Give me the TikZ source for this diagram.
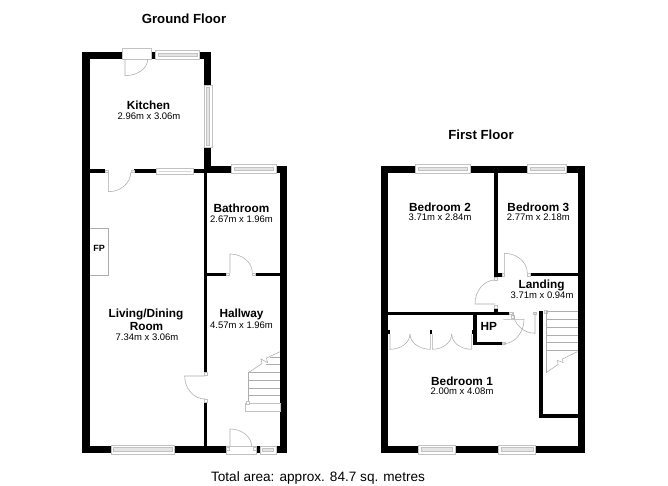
\documentclass[tikz,border=0pt]{standalone}
\usepackage{fontspec}
\setmainfont{Liberation Sans}
\definecolor{ln}{gray}{0.68}
\definecolor{lnw}{gray}{0.76}
\definecolor{glass}{gray}{0.9}
\tikzset{
  x=1pt,y=-1pt,
  wall/.style={fill=black,draw=none},
  thin line/.style={draw=ln,line width=0.55pt},
  framebox/.style={draw=lnw,line width=0.5pt,fill=white},
  glassbox/.style={draw=lnw,line width=0.45pt,fill=glass},
  roomname/.style={font=\bfseries\fontsize{11.8}{12}\selectfont,inner sep=0pt,align=center},
  roomdims/.style={font=\fontsize{9.5}{10}\selectfont,inner sep=0pt},
  heading/.style={font=\bfseries\fontsize{13.2}{14}\selectfont,inner sep=0pt},
}
\newcommand{\wl}[4]{\fill[wall] (#1,#2) rectangle (#3,#4);}
\newcommand{\winh}[4]{\draw[framebox] (#1,#2) rectangle (#3,#4);
  \draw[glassbox] (#1+2.5,#2+2.5) rectangle (#3-2.5,#4-3);}
\newcommand{\winv}[4]{\draw[framebox] (#1,#2) rectangle (#3,#4);
  \draw[glassbox] (#1+2.5,#2+2.5) rectangle (#3-2.5,#4-2.5);}
\newcommand{\post}[2]{\draw[framebox] (#1-1.3,#2-1.3) rectangle (#1+1.3,#2+1.3);}
% door with a vertical leaf: hinge x, hinge y, tip y, arc end x
\newcommand{\doorv}[4]{\draw[thin line] (#1,#2) -- (#1,#3) .. controls (#1+0.55*#4-0.55*#1,#3) and (#4,#2+0.55*#3-0.55*#2) .. (#4,#2);}
% door with a horizontal leaf: hinge x, hinge y, tip x, arc end y
\newcommand{\doorh}[4]{\draw[thin line] (#1,#2) -- (#3,#2) .. controls (#3,#2+0.55*#4-0.55*#2) and (#1+0.55*#3-0.55*#1,#4) .. (#1,#4);}
\begin{document}
\begin{tikzpicture}
\useasboundingbox (0,0) rectangle (668,486);
\fill[white] (0,0) rectangle (668,486);

% ---------- Ground floor walls
\wl{82.3}{51.7}{90}{453.3}
\wl{82.3}{51.7}{122.3}{59.3}
\wl{151.7}{51.7}{155.3}{59.3}
\wl{199.3}{51.7}{210.7}{59.3}
\wl{204}{51.7}{210.7}{85}
\wl{204}{147.3}{210.7}{173.3}
\wl{204}{165.7}{231.7}{173.3}
\wl{276}{165.7}{287.3}{173.3}
\wl{280}{165.7}{287.3}{453.3}
\wl{90}{169.3}{105}{173.3}
\wl{134}{169.3}{156.3}{173.3}
\wl{193.3}{169.3}{204}{173.3}
\wl{204}{173}{207.3}{372}
\wl{204}{402}{207.3}{446}
\wl{207}{272.7}{226}{276}
\wl{255}{272.7}{280}{276}
\wl{82.3}{445.7}{111}{453.3}
\wl{174.7}{445.7}{226.7}{453.3}
\wl{256}{445.7}{260}{453.3}
\wl{276}{445.7}{287.3}{453.3}

% windows
\winh{155.3}{50.5}{199.3}{59.3}
\winv{204}{85}{212}{147.3}
\winh{156.3}{168.5}{193.3}{174}
\winh{231.7}{164.5}{276}{173.3}
\winh{111}{445}{174.7}{454.7}
\winh{260}{446}{276}{454.5}

% doors
\draw[framebox] (122.3,48.3) rectangle (151.7,59.3);
\doorv{125}{59.3}{75.7}{147.7}
\post{106.5}{171.3}\post{132.5}{171.3}
\doorv{108.3}{172.5}{191.7}{130.7}
\post{205.6}{373.5}\post{205.6}{400.5}
\doorh{205}{376}{184.7}{399}
\post{227.5}{274.3}\post{253.5}{274.3}
\doorv{230}{272.7}{254}{252.3}
\draw[framebox] (226.7,446.5) rectangle (256,454.5);
\doorv{230}{446.5}{429}{251.7}
\post{228}{449}\post{254.5}{449}

% fireplace
\draw[thin line] (90,228.3) -- (108.3,228.3) -- (108.3,275) -- (90,275);

% stairs (ground)
\draw[framebox] (245.7,403.3) rectangle (280,411);
\draw[thin line] (248.3,372.7) -- (248.3,403.3);
\foreach \yy in {372.7,380.3,388,395.7}{\draw[thin line] (248.3,\yy) -- (280,\yy);}
\draw[thin line] (248.3,372.7) -- (262,363.5) -- (261,359) -- (267.5,362.5) -- (266.5,358) -- (280,351.7);
\draw[thin line] (270,357.3) -- (280,357.3);
\draw[thin line] (266,364.5) -- (280,364.5);
\post{248}{403}

% ---------- First floor walls
\wl{380.7}{165.7}{388}{453.3}
\wl{578.3}{165.7}{585.3}{453.3}
\wl{380.7}{165.7}{415.7}{173}
\wl{470}{165.7}{527.3}{173}
\wl{566.7}{165.7}{585.3}{173}
\wl{494}{173}{497.7}{276.7}
\wl{494}{272.7}{501.7}{276.7}
\wl{530}{272.7}{578.3}{276.2}
\wl{494}{308}{497.7}{315}
\wl{388}{311.7}{509.3}{315}
\wl{473.3}{315}{476.7}{345}
\wl{473.3}{341.7}{501.7}{345}
\wl{539.3}{311}{543.3}{417.7}
\wl{539.3}{414}{578.3}{417.7}
\wl{380.7}{445.7}{418.3}{453.3}
\wl{455}{445.7}{498.3}{453.3}
\wl{535.7}{445.7}{585.3}{453.3}
\wl{388}{330}{389.6}{334}
\wl{430}{330}{432}{334}
\wl{471.7}{330}{473.3}{334}

% windows
\winh{415.7}{164.5}{470}{173.2}
\winh{527.3}{164.5}{566.7}{173.2}
\winh{418.3}{445}{455}{454.7}
\winh{498.3}{445}{535.7}{454.7}

% doors
\post{503.2}{274.7}\post{528.5}{274.7}
\doorv{504.3}{273}{253.3}{527.3}
\post{495.8}{279}\post{495.8}{306.5}
\doorh{495}{304}{475}{280}
\post{511}{313.3}\post{503.5}{343.4}
\doorh{503.3}{319.3}{524}{343.7}
\post{513}{317}
\post{535}{313.3}
\doorv{535}{312}{333.3}{513.3}

% wardrobe
\doorv{390}{334}{349.3}{410}
\doorv{430.3}{334}{349.3}{410}
\doorv{432.3}{334}{349.3}{451.7}
\doorv{471.3}{334}{349.3}{451.7}

% stairs (first)
\post{545.5}{312}
\draw[thin line] (546,311) -- (546,372.7);
\foreach \yy in {311.7,319.3,327.3,335,342.7,350.7}{\draw[thin line] (546,\yy) -- (578.3,\yy);}
\draw[thin line] (546,372.7) -- (558,364.5) -- (557.5,360.5) -- (563,362.5) -- (562.5,359) -- (577.3,351.7);

% ---------- Text
\node[heading] (gf) at (184,18.5) {Ground Floor};
\node[heading] (ff) at (481,134.5) {First Floor};
\node[roomname] (kit) at (148.5,105.5) {Kitchen};
\node[roomdims] (kitd) at (149,116) {2.96m x 3.06m};
\node[roomname] (bath) at (241.5,208.5) {Bathroom};
\node[roomdims] (bathd) at (241.5,219.5) {2.67m x 1.96m};
\node[roomname] (liv) at (146,314.5) {Living/Dining};
\node[roomname] (livb) at (146.5,326.5) {Room};
\node[roomdims] (livd) at (147,337) {7.34m x 3.06m};
\node[roomname] (hall) at (241.5,314) {Hallway};
\node[roomdims] (halld) at (241.5,325) {4.57m x 1.96m};
\node[roomname,font=\bfseries\fontsize{9}{10}\selectfont] (fp) at (99,248) {FP};
\node[roomname] (b2) at (440,207) {Bedroom 2};
\node[roomdims] (b2d) at (440,217.5) {3.71m x 2.84m};
\node[roomname] (b3) at (538.3,207) {Bedroom 3};
\node[roomdims] (b3d) at (538.3,217.5) {2.77m x 2.18m};
\node[roomname] (land) at (541.5,285) {Landing};
\node[roomdims] (landd) at (542,295) {3.71m x 0.94m};
\node[roomname] (hp) at (488.7,326.5) {HP};
\node[roomname] (b1) at (462,381) {Bedroom 1};
\node[roomdims] (b1d) at (462,391.5) {2.00m x 4.08m};
\node[inner sep=0pt,font=\fontsize{13.6}{14}\selectfont] (tot) at (318,478) {Total area: approx. 84.7 sq. metres};
\end{tikzpicture}
\end{document}
